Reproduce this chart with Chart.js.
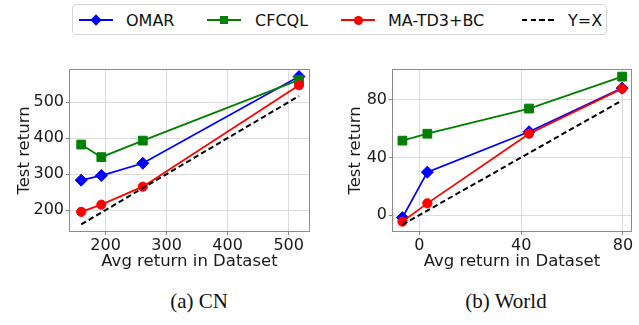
<!DOCTYPE html>
<html>
<head>
<meta charset="utf-8">
<script src="https://cdn.jsdelivr.net/npm/chart.js@4"></script>
<style>
    body { margin: 0; background: #fff; }
    #fig { position: relative; width: 639px; height: 325px; overflow: hidden; font-family: "DejaVu Sans", sans-serif; }
    .panel { position: absolute; top: 40px; height: 240px; }
    #legend { position: absolute; left: 72px; top: 4px; width: 535px; height: 31px; border: 1px solid #d6d6d6; border-radius: 4px; box-sizing: border-box; }
    .lg-line { position: absolute; height: 2px; top: 18px; }
    .lg-mark { position: absolute; }
    .lg-text { position: absolute; top: 9px; font-size: 16px; line-height: 19px; color: #111; white-space: nowrap; }
    .caption { position: absolute; top: 289px; font-family: "Liberation Serif", serif; font-size: 21px; color: #111; transform: translateX(-50%); white-space: nowrap; }
</style>
</head>
<body>
<div id="fig">
    <div id="legend"></div>
    <div class="panel" style="left:0; width:320px;"><canvas id="cn"></canvas></div>
    <div class="panel" style="left:320px; width:319px;"><canvas id="world"></canvas></div>
    <div class="caption" style="left:199px;">(a) CN</div>
    <div class="caption" style="left:506px;">(b) World</div>
</div>
<script>
// ============================================
// DONNEES
// ============================================

const seriesNames = ['OMAR', 'CFCQL', 'MA-TD3+BC', 'Y=X'];
const seriesColors = ['#0000ff', '#008000', '#ff0000', '#000000'];

// (a) CN
const cnX = [160, 193, 261, 517];
const cnOmar = [283, 296, 330, 571];
const cnCfcql = [382, 347, 393, 562];
const cnMatd3 = [195, 215, 265, 547];
const cnTicksX = [200, 300, 400, 500];
const cnTicksY = [200, 300, 400, 500];

// (b) World
const worldX = [-6.7, 3.1, 43.1, 79.7];
const worldOmar = [-1.8, 29.8, 57.9, 88.2];
const worldCfcql = [51.7, 56.5, 74, 96.2];
const worldMatd3 = [-4.6, 8.1, 56.5, 87.9];
const worldTicksX = [0, 40, 80];
const worldTicksY = [0, 40, 80];

// ============================================
// HELPERS
// ============================================

const pts = (xs, ys) => xs.map((x, i) => ({ x: x, y: ys[i] }));

const framePlugin = {
    id: 'frame',
    beforeDatasetsDraw(chart) {
        const { ctx, chartArea: a } = chart;
        ctx.save();
        ctx.strokeStyle = '#8c8c8c';
        ctx.lineWidth = 1;
        ctx.strokeRect(Math.round(a.left) + 0.5, Math.round(a.top) + 0.5,
            Math.round(a.right - a.left) - 1, Math.round(a.bottom - a.top) - 1);
        ctx.restore();
    }
};

function buildDatasets(xs, omar, cfcql, matd3) {
    return [
        {
            label: seriesNames[0], data: pts(xs, omar), order: 4,
            borderColor: seriesColors[0], backgroundColor: seriesColors[0],
            borderWidth: 1.8, pointStyle: 'rectRot', pointRadius: 6, pointBorderWidth: 1
        },
        {
            label: seriesNames[1], data: pts(xs, cfcql), order: 3,
            borderColor: seriesColors[1], backgroundColor: seriesColors[1],
            borderWidth: 1.8, pointStyle: 'rect', pointRadius: 6.2, pointBorderWidth: 1
        },
        {
            label: seriesNames[2], data: pts(xs, matd3), order: 2,
            borderColor: seriesColors[2], backgroundColor: seriesColors[2],
            borderWidth: 1.8, pointStyle: 'circle', pointRadius: 4.6, pointBorderWidth: 1
        },
        {
            label: seriesNames[3], data: pts(xs, xs), order: 1,
            borderColor: seriesColors[3], borderWidth: 2, borderDash: [5.5, 3.2],
            pointRadius: 0
        }
    ];
}

function axis(min, max, ticks, title, fitSize, isX, titlePad) {
    return {
        type: 'linear',
        min: min,
        max: max,
        afterBuildTicks: (scale) => { scale.ticks = ticks.map(v => ({ value: v })); },
        afterFit: (scale) => {
            if (isX) scale.height = fitSize; else scale.width = fitSize;
        },
        grid: { color: '#dcdcdc', lineWidth: 1, tickLength: 3, tickColor: '#8c8c8c' },
        border: { display: false },
        ticks: {
            autoSkip: false, maxRotation: 0, padding: isX ? 1 : 2,
            color: '#1a1a1a', font: { family: 'DejaVu Sans', size: 16 }
        },
        title: {
            display: true, text: title, color: '#1a1a1a',
            font: { family: 'DejaVu Sans', size: 16.5 },
            padding: titlePad
        }
    };
}

function renderPanel(canvasId, datasets, xs, ys, right) {
    return new Chart(document.getElementById(canvasId), {
        type: 'line',
        data: { datasets: datasets },
        options: {
            responsive: true,
            maintainAspectRatio: false,
            animation: false,
            layout: { padding: { top: 29, right: right, left: 0, bottom: 0 } },
            plugins: { legend: { display: false }, tooltip: { enabled: false } },
            scales: { x: xs, y: ys }
        },
        plugins: [framePlugin]
    });
}

// ============================================
// GRAPHIQUES
// ============================================

renderPanel('cn', buildDatasets(cnX, cnOmar, cnCfcql, cnMatd3),
    axis(140, 535, cnTicksX, 'Avg return in Dataset', 48, true, { top: 0, bottom: 8 }),
    axis(139, 592, cnTicksY, 'Test return', 69, false, { top: 14.4, bottom: 0 }),
    10);

renderPanel('world', buildDatasets(worldX, worldOmar, worldCfcql, worldMatd3),
    axis(-10.8, 83.5, worldTicksX, 'Avg return in Dataset', 48, true, { top: 0, bottom: 8 }),
    axis(-11.8, 101.5, worldTicksY, 'Test return', 72, false, { top: 25.4, bottom: 0 }),
    6.7);

// ============================================
// LEGENDE
// ============================================

const legend = document.getElementById('legend');
const legendLineX = [6, 134, 268, 449];
const legendTextX = [53, 182, 315, 495];

seriesNames.forEach((name, i) => {
    const color = seriesColors[i];
    const line = document.createElement('div');
    line.className = 'lg-line';
    line.style.left = legendLineX[i] + 'px';
    line.style.width = '34px';
    line.style.top = '14px';
    if (i === 3) {
        line.style.background = `repeating-linear-gradient(90deg, ${color} 0 5.5px, transparent 5.5px 8.7px)`;
    } else {
        line.style.background = color;
    }
    legend.appendChild(line);

    if (i < 3) {
        const m = document.createElement('div');
        m.className = 'lg-mark';
        m.style.background = color;
        const cx = legendLineX[i] + 17;
        const size = i === 0 ? 8 : (i === 1 ? 8 : 9);
        m.style.width = size + 'px';
        m.style.height = size + 'px';
        m.style.left = (cx - size / 2) + 'px';
        m.style.top = (15 - size / 2) + 'px';
        if (i === 0) m.style.transform = 'rotate(45deg)';
        if (i === 2) m.style.borderRadius = '50%';
        legend.appendChild(m);
    }

    const t = document.createElement('div');
    t.className = 'lg-text';
    t.style.left = legendTextX[i] + 'px';
    t.style.top = '6px';
    t.textContent = name;
    legend.appendChild(t);
});
</script>
</body>
</html>
